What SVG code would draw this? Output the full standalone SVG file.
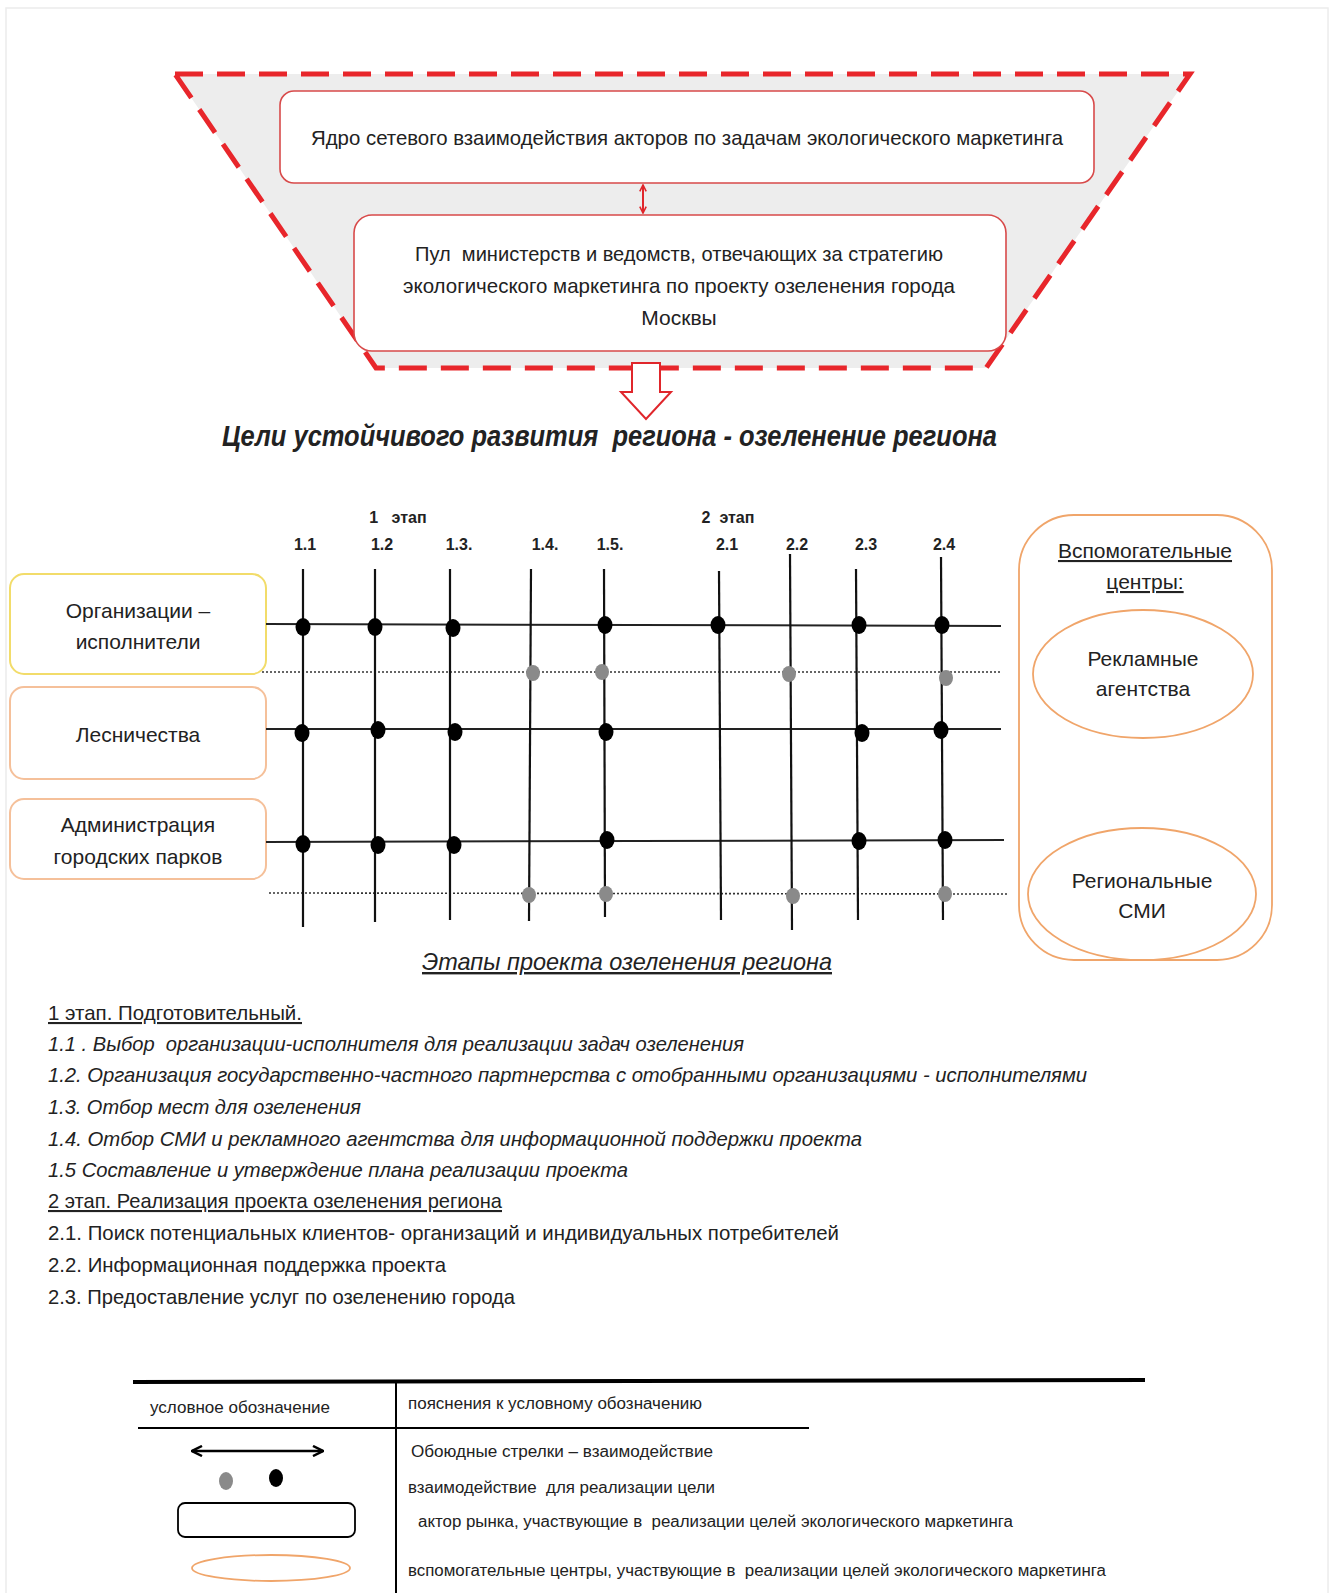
<svg xmlns="http://www.w3.org/2000/svg" width="1334" height="1593" viewBox="0 0 1334 1593">
  <style>
    text { font-family: "Liberation Sans", Arial, sans-serif; fill: #222; white-space: pre; }
    .box-red { fill: #fff; stroke: #d84a4a; stroke-width: 1.6; }
    .actor-y { fill: #fff; stroke: #f2dc6a; stroke-width: 2; }
    .actor-o { fill: #fff; stroke: #f5c09a; stroke-width: 2; }
    .aux { fill: #fff; stroke: #f0a56a; stroke-width: 1.8; }
    .vline { stroke: #111; stroke-width: 2.2; }
    .hline { stroke: #222; stroke-width: 2; }
    .dline { stroke: #333; stroke-width: 1.6; stroke-dasharray: 2 2; }
    .dot-b { fill: #000; }
    .dot-g { fill: #8a8a8a; }
    .lbl { font-size: 16px; font-weight: bold; text-anchor: middle; }
    .node-t { font-size: 21px; text-anchor: middle; }
    .list { font-size: 21px; }
    .list-i { font-size: 21px; font-style: italic; }
    .leg { font-size: 16px; }
  </style>
  <defs>
    <marker id="arrRed" viewBox="0 0 10 10" refX="9" refY="5" markerWidth="4" markerHeight="4" orient="auto-start-reverse">
      <path d="M1,1 L9,5 L1,9" fill="none" stroke="#e0262b" stroke-width="2"/>
    </marker>
    <marker id="arrBlk" viewBox="0 0 10 10" refX="9" refY="5" markerWidth="5" markerHeight="5" orient="auto-start-reverse">
      <path d="M1,1 L9,5 L1,9" fill="none" stroke="#000" stroke-width="2"/>
    </marker>
  </defs>

  <rect x="0" y="0" width="1334" height="1593" fill="#fff"/>
  <rect x="6" y="8" width="1322" height="1590" fill="none" stroke="#ececec" stroke-width="1.5"/>

  <!-- Core of the network: dashed trapezoid -->
  <g id="core-frame">
    <polygon points="175,74 1190,74 986,368 376,368" fill="#ededed" stroke="#e8262b" stroke-width="5" stroke-dasharray="28 14"/>
  </g>

  <g id="node-core">
    <rect class="box-red" x="280" y="91" width="814" height="92" rx="14"/>
    <text class="node-t" x="687" y="145" font-size="20" textLength="752" lengthAdjust="spacingAndGlyphs">Ядро сетевого взаимодействия акторов по задачам экологического маркетинга</text>
  </g>

  <g id="node-pool">
    <rect class="box-red" x="354" y="215" width="652" height="136" rx="18"/>
    <text class="node-t" x="679" y="261" font-size="20" textLength="528" lengthAdjust="spacingAndGlyphs">Пул  министерств и ведомств, отвечающих за стратегию</text>
    <text class="node-t" x="679" y="293" font-size="20" textLength="552" lengthAdjust="spacingAndGlyphs">экологического маркетинга по проекту озеленения города</text>
    <text class="node-t" x="679" y="325" font-size="20">Москвы</text>
  </g>

  <g id="goal">
    <polygon points="632,363 660,363 660,392 671,392 646,419 621,392 632,392" fill="#fff" stroke="#e0262b" stroke-width="2"/>
    <text x="222" y="446" font-size="29" font-weight="bold" font-style="italic" textLength="775" lengthAdjust="spacingAndGlyphs">Цели устойчивого развития  региона - озеленение региона</text>
  </g>

  <!-- Stage headers -->
  <g id="stage-labels">
    <text class="lbl" x="398" y="523">1   этап</text>
    <text class="lbl" x="728" y="523">2  этап</text>
    <text class="lbl" x="305" y="550">1.1</text>
    <text class="lbl" x="382" y="550">1.2</text>
    <text class="lbl" x="459" y="550">1.3.</text>
    <text class="lbl" x="545" y="550">1.4.</text>
    <text class="lbl" x="610" y="550">1.5.</text>
    <text class="lbl" x="727" y="550">2.1</text>
    <text class="lbl" x="797" y="550">2.2</text>
    <text class="lbl" x="866" y="550">2.3</text>
    <text class="lbl" x="944" y="550">2.4</text>
  </g>

  <!-- Actor nodes -->
  <g id="node-org">
    <rect class="actor-y" x="10" y="574" width="256" height="100" rx="14"/>
    <text class="node-t" x="138" y="618">Организации –</text>
    <text class="node-t" x="138" y="649">исполнители</text>
  </g>
  <g id="node-forest">
    <rect class="actor-o" x="10" y="687" width="256" height="92" rx="14"/>
    <text class="node-t" x="138" y="742">Лесничества</text>
  </g>
  <g id="node-parks">
    <rect class="actor-o" x="10" y="799" width="256" height="80" rx="14"/>
    <text class="node-t" x="138" y="832">Администрация</text>
    <text class="node-t" x="138" y="864">городских парков</text>
  </g>

  <!-- Auxiliary centres -->
  <g id="node-aux">
    <rect class="aux" x="1019" y="515" width="253" height="445" rx="55"/>
    <text class="node-t" x="1145" y="558" text-decoration="underline">Вспомогательные</text>
    <text class="node-t" x="1145" y="589" text-decoration="underline">центры:</text>
  </g>
  <g id="node-ads">
    <ellipse class="aux" cx="1143" cy="674" rx="110" ry="64"/>
    <text class="node-t" x="1143" y="666" font-size="19">Рекламные</text>
    <text class="node-t" x="1143" y="696" font-size="19">агентства</text>
  </g>
  <g id="node-media">
    <ellipse class="aux" cx="1142" cy="894" rx="114" ry="66"/>
    <text class="node-t" x="1142" y="888">Региональные</text>
    <text class="node-t" x="1142" y="918">СМИ</text>
  </g>

  <!-- Connectors: interaction arrow and the stage grid -->
  <g id="connectors">
    <line x1="643" y1="185" x2="643" y2="213" stroke="#e0262b" stroke-width="2" marker-start="url(#arrRed)" marker-end="url(#arrRed)"/>

    <line class="hline" x1="266" y1="624" x2="1001" y2="626"/>
    <line class="dline" x1="262" y1="672" x2="1001" y2="672"/>
    <line class="hline" x1="266" y1="729" x2="1001" y2="729"/>
    <line class="hline" x1="266" y1="842" x2="1004" y2="840"/>
    <line class="dline" x1="269" y1="893" x2="1008" y2="894"/>

    <line class="vline" x1="303" y1="569" x2="303" y2="927"/>
    <line class="vline" x1="375" y1="569" x2="375" y2="922"/>
    <line class="vline" x1="450" y1="569" x2="450" y2="920"/>
    <line class="vline" x1="531" y1="569" x2="529" y2="921"/>
    <line class="vline" x1="604" y1="569" x2="605" y2="917"/>
    <line class="vline" x1="719" y1="571" x2="721" y2="920"/>
    <line class="vline" x1="790" y1="554" x2="792" y2="930"/>
    <line class="vline" x1="856" y1="569" x2="858" y2="920"/>
    <line class="vline" x1="941" y1="557" x2="943" y2="920"/>

    <!-- black dots: row 1 -->
    <ellipse class="dot-b" cx="303" cy="627" rx="7.5" ry="9"/>
    <ellipse class="dot-b" cx="375" cy="627" rx="7.5" ry="9"/>
    <ellipse class="dot-b" cx="453" cy="628" rx="7.5" ry="9"/>
    <ellipse class="dot-b" cx="605" cy="625" rx="7.5" ry="9"/>
    <ellipse class="dot-b" cx="718" cy="625" rx="7.5" ry="9"/>
    <ellipse class="dot-b" cx="859" cy="625" rx="7.5" ry="9"/>
    <ellipse class="dot-b" cx="942" cy="625" rx="7.5" ry="9"/>
    <!-- grey dots: row 1 support -->
    <ellipse class="dot-g" cx="533" cy="673" rx="7" ry="8"/>
    <ellipse class="dot-g" cx="602" cy="672" rx="7" ry="8"/>
    <ellipse class="dot-g" cx="789" cy="674" rx="7" ry="8"/>
    <ellipse class="dot-g" cx="946" cy="678" rx="7" ry="8"/>
    <!-- black dots: row 2 -->
    <ellipse class="dot-b" cx="302" cy="733" rx="7.5" ry="9"/>
    <ellipse class="dot-b" cx="378" cy="730" rx="7.5" ry="9"/>
    <ellipse class="dot-b" cx="455" cy="732" rx="7.5" ry="9"/>
    <ellipse class="dot-b" cx="606" cy="732" rx="7.5" ry="9"/>
    <ellipse class="dot-b" cx="862" cy="733" rx="7.5" ry="9"/>
    <ellipse class="dot-b" cx="941" cy="730" rx="7.5" ry="9"/>
    <!-- black dots: row 3 -->
    <ellipse class="dot-b" cx="303" cy="844" rx="7.5" ry="9"/>
    <ellipse class="dot-b" cx="378" cy="845" rx="7.5" ry="9"/>
    <ellipse class="dot-b" cx="454" cy="845" rx="7.5" ry="9"/>
    <ellipse class="dot-b" cx="607" cy="840" rx="7.5" ry="9"/>
    <ellipse class="dot-b" cx="859" cy="841" rx="7.5" ry="9"/>
    <ellipse class="dot-b" cx="945" cy="840" rx="7.5" ry="9"/>
    <!-- grey dots: row 3 support -->
    <ellipse class="dot-g" cx="529" cy="895" rx="7" ry="8"/>
    <ellipse class="dot-g" cx="606" cy="894" rx="7" ry="8"/>
    <ellipse class="dot-g" cx="793" cy="896" rx="7" ry="8"/>
    <ellipse class="dot-g" cx="945" cy="894" rx="7" ry="8"/>
  </g>

  <!-- Project stages description -->
  <g id="stages-text">
    <text x="422" y="970" font-size="24" font-style="italic" text-decoration="underline" textLength="410" lengthAdjust="spacingAndGlyphs">Этапы проекта озеленения региона</text>
    <text class="list" x="48" y="1020" text-decoration="underline" textLength="254" lengthAdjust="spacingAndGlyphs">1 этап. Подготовительный.</text>
    <text class="list-i" x="48" y="1051" textLength="696" lengthAdjust="spacingAndGlyphs">1.1 . Выбор  организации-исполнителя для реализации задач озеленения</text>
    <text class="list-i" x="48" y="1082" textLength="1039" lengthAdjust="spacingAndGlyphs">1.2. Организация государственно-частного партнерства с отобранными организациями - исполнителями</text>
    <text class="list-i" x="48" y="1114" textLength="313" lengthAdjust="spacingAndGlyphs">1.3. Отбор мест для озеленения</text>
    <text class="list-i" x="48" y="1146" textLength="814" lengthAdjust="spacingAndGlyphs">1.4. Отбор СМИ и рекламного агентства для информационной поддержки проекта</text>
    <text class="list-i" x="48" y="1177" textLength="580" lengthAdjust="spacingAndGlyphs">1.5 Составление и утверждение плана реализации проекта</text>
    <text class="list" x="48" y="1208" text-decoration="underline" textLength="454" lengthAdjust="spacingAndGlyphs">2 этап. Реализация проекта озеленения региона</text>
    <text class="list" x="48" y="1240" textLength="791" lengthAdjust="spacingAndGlyphs">2.1. Поиск потенциальных клиентов- организаций и индивидуальных потребителей</text>
    <text class="list" x="48" y="1272" textLength="398" lengthAdjust="spacingAndGlyphs">2.2. Информационная поддержка проекта</text>
    <text class="list" x="48" y="1304" textLength="467" lengthAdjust="spacingAndGlyphs">2.3. Предоставление услуг по озеленению города</text>
  </g>

  <!-- Legend table -->
  <g id="legend">
    <line x1="133" y1="1382" x2="1145" y2="1380" stroke="#000" stroke-width="4"/>
    <line x1="396" y1="1383" x2="396" y2="1593" stroke="#000" stroke-width="2"/>
    <line x1="138" y1="1428" x2="809" y2="1428" stroke="#000" stroke-width="2"/>
    <text class="leg" x="150" y="1413" textLength="180" lengthAdjust="spacingAndGlyphs">условное обозначение</text>
    <text class="leg" x="408" y="1409" textLength="294" lengthAdjust="spacingAndGlyphs">пояснения к условному обозначению</text>

    <line x1="192" y1="1451" x2="323" y2="1451" stroke="#000" stroke-width="2.5" marker-start="url(#arrBlk)" marker-end="url(#arrBlk)"/>
    <ellipse class="dot-g" cx="226" cy="1481" rx="7" ry="9"/>
    <ellipse class="dot-b" cx="276" cy="1478" rx="7" ry="9"/>
    <rect x="178" y="1503" width="177" height="34" rx="7" fill="#fff" stroke="#000" stroke-width="1.8"/>
    <ellipse cx="271" cy="1568" rx="79" ry="13" fill="#fff" stroke="#f0a56a" stroke-width="1.8"/>

    <text class="leg" x="411" y="1457" textLength="302" lengthAdjust="spacingAndGlyphs">Обоюдные стрелки – взаимодействие</text>
    <text class="leg" x="408" y="1493" textLength="307" lengthAdjust="spacingAndGlyphs">взаимодействие  для реализации цели</text>
    <text class="leg" x="418" y="1527" textLength="595" lengthAdjust="spacingAndGlyphs">актор рынка, участвующие в  реализации целей экологического маркетинга</text>
    <text class="leg" x="408" y="1576" textLength="698" lengthAdjust="spacingAndGlyphs">вспомогательные центры, участвующие в  реализации целей экологического маркетинга</text>
  </g>
</svg>
